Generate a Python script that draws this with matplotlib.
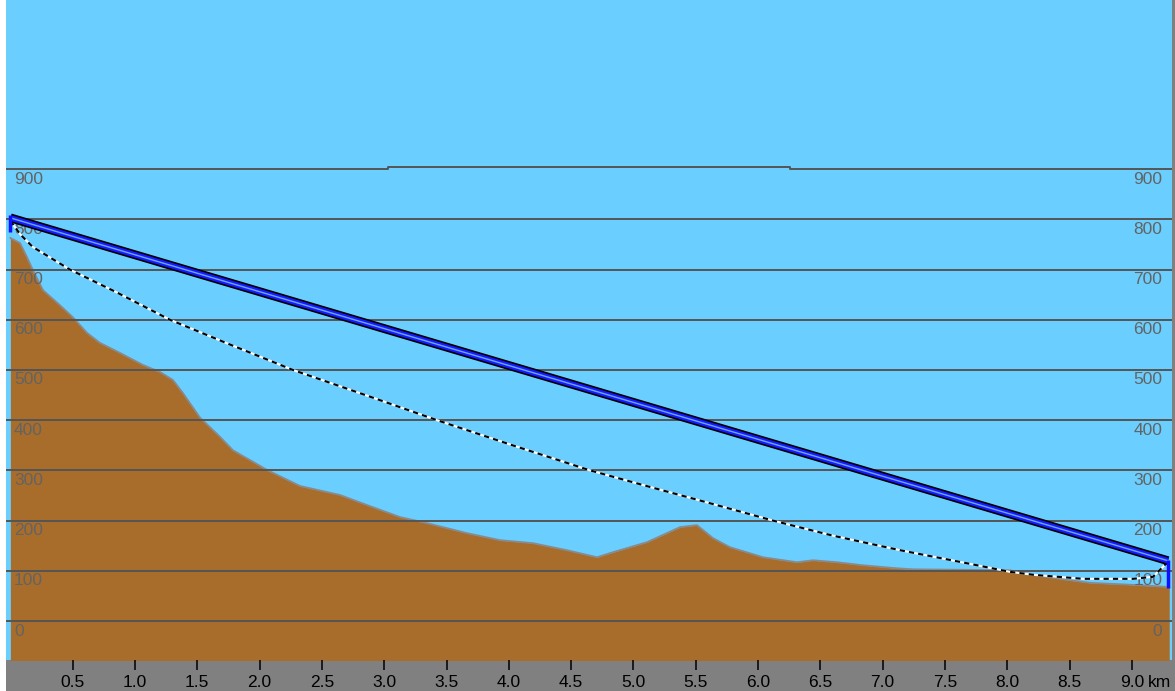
import numpy as np
import matplotlib
matplotlib.use("Agg")
import matplotlib.pyplot as plt
from matplotlib.patches import Rectangle

plt.rcParams['font.family'] = ['Liberation Sans', 'DejaVu Sans']

# terrain profile (km, m)
terrain_km = [0.0, 0.077, 0.133, 0.181, 0.262, 0.398, 0.502, 0.615, 0.719, 0.880,
              1.064, 1.201, 1.305, 1.385, 1.522, 1.682, 1.787, 2.059, 2.324, 2.645,
              2.862, 3.127, 3.343, 3.664, 3.929, 4.194, 4.467, 4.708, 4.836, 5.109,
              5.374, 5.510, 5.639, 5.775, 6.040, 6.313, 6.441, 6.634, 6.843, 7.116,
              7.244, 8.022, 8.207, 8.480, 8.665, 9.010, 9.283, 9.30]
terrain_m = [763, 753, 725, 699, 659, 629, 605, 574, 554, 534,
             510, 496, 480, 454, 405, 367, 340, 301, 269, 251,
             231, 207, 195, 175, 161, 155, 141, 127, 137, 157,
             187, 191, 165, 147, 127, 117, 121, 117, 111, 105,
             103, 101, 92, 82, 76, 72, 68, 68]

# clearance curve (dashed)
clear_km = [0.0, 0.08, 0.18, 0.478, 0.85, 1.281, 1.75, 2.268, 2.85, 3.424, 4.03,
            4.652, 5.133, 5.535, 6.12, 6.6, 7.14, 7.677, 8.02, 8.21, 8.61, 9.01,
            9.17, 9.25, 9.29]
clear_m = [797, 770, 745, 700, 655, 600, 552, 500, 450, 400, 350,
           300, 267, 240, 200, 170, 141, 115, 98, 92, 84, 84,
           88, 108, 118]

# line of sight and antennas
los_km = [0.0, 9.29]
los_m = [803, 120]
ant_a = [775, 809]
ant_b = [66, 122]

# top reference line (900 m, raised in the middle)
top_km = [-0.1, 3.03, 3.03, 6.26, 6.26, 9.4]
top_m = [900, 900, 904, 904, 900, 900]

grid_levels = [0, 100, 200, 300, 400, 500, 600, 700, 800]
label_levels = [0, 100, 200, 300, 400, 500, 600, 700, 800, 900]
xticks = [0.5, 1.0, 1.5, 2.0, 2.5, 3.0, 3.5, 4.0, 4.5, 5.0, 5.5, 6.0, 6.5, 7.0, 7.5, 8.0, 8.5, 9.0]

sky = '#6ACFFF'
earth = '#A86D2B'

fig = plt.figure(figsize=(11.75, 6.91), dpi=100, facecolor='#808080')
fig.patches.append(Rectangle((0, 0), 6 / 1175, 1, transform=fig.transFigure,
                             facecolor='white', edgecolor='none', zorder=0))
ax = fig.add_axes([6 / 1175, 31 / 691, 1166 / 1175, 660 / 691])
ax.set_facecolor(sky)
ax.set_xlim(-0.035, 9.322)
ax.set_ylim(-77.7, 1237)

ax.fill_between(terrain_km, terrain_m, -200, color=earth, lw=0, zorder=1)
ax.plot(terrain_km, terrain_m, color='#8a8a8a', lw=1.3, zorder=1.5)

for g in grid_levels:
    ax.axhline(g, color='#555555', lw=1.4, zorder=2)
ax.plot(top_km, top_m, color='#555555', lw=1.4, zorder=2)

for g in label_levels:
    ax.text(0.03, g - 5, str(g), ha='left', va='top', fontsize=12.5,
            color='#636363', zorder=3)
    ax.text(9.245, g - 5, str(g), ha='right', va='top', fontsize=12.5,
            color='#636363', zorder=3)

# dashed clearance curve
ax.plot(clear_km, clear_m, color='white', lw=1.5, zorder=4)
ax.plot(clear_km, clear_m, color='black', lw=1.5, dashes=(2.5, 2.0), zorder=4.1)

# line of sight band
ax.plot(los_km, los_m, color='black', lw=6.4, solid_capstyle='butt', zorder=5)
ax.plot(los_km, los_m, color='#1a1aff', lw=4.0, solid_capstyle='butt', zorder=5.1)
ax.plot(los_km, los_m, color='#66aaff', lw=1.0, solid_capstyle='butt', zorder=5.2)

ax.plot([0.0, 0.0], ant_a, color='#1010ff', lw=2.5, solid_capstyle='butt', zorder=6)
ax.plot([9.29, 9.29], ant_b, color='#1010ff', lw=2.5, solid_capstyle='butt', zorder=6)

for s in ax.spines.values():
    s.set_visible(False)
ax.set_yticks([])
ax.set_xticks(xticks)
ax.set_xticklabels(['%.1f' % t for t in xticks])
ax.tick_params(axis='x', direction='out', length=7, width=1.1, color='black',
               labelsize=12.5, labelcolor='black', pad=3.5)
fig.text(1148 / 1175, 1 - 675 / 691, 'km', ha='left', va='top', fontsize=12.5, color='black')

fig.savefig('out.png', dpi=100, facecolor=fig.get_facecolor())
